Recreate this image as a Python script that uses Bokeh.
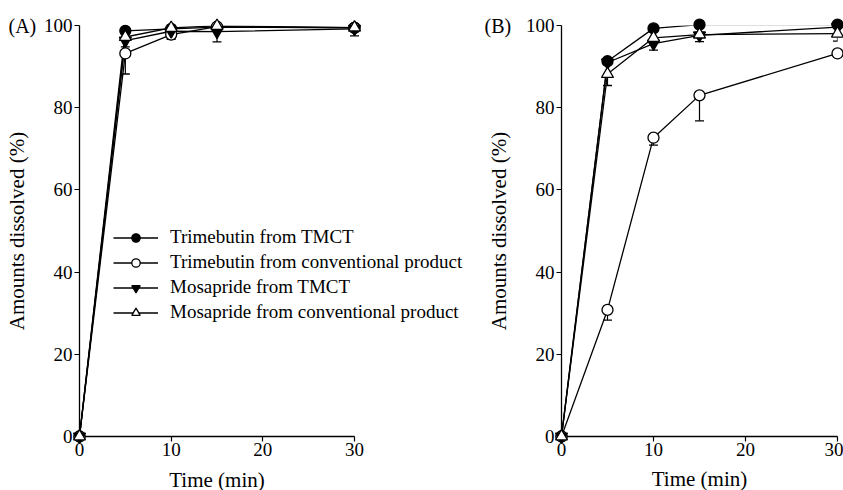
from bokeh.plotting import figure
from bokeh.layouts import row
from bokeh.models import Legend, LegendItem, Range1d, FixedTicker, ColumnDataSource
from bokeh.core.properties import value
from bokeh.embed import file_html
from bokeh.resources import INLINE

time = [0, 5, 10, 15, 30]

# Panel A
tri_tmct_a = [0, 98.7, 99.2, 99.6, 99.5]
tri_conv_a = [0, 93.2, 97.8, 99.7, 99.4]
mos_tmct_a = [0, 96.3, 98.6, 98.5, 99.2]
mos_conv_a = [0, 97.2, 99.4, 99.9, 99.5]
tri_conv_a_err = [0, 5.0, 1.2, 0, 0]
mos_tmct_a_err = [0, 1.5, 1.2, 2.5, 1.7]

# Panel B
tri_tmct_b = [0, 91.3, 99.3, 100.2, 100.2]
tri_conv_b = [0, 30.8, 72.7, 83.0, 93.2]
mos_tmct_b = [0, 91.0, 95.6, 97.6, 99.6]
mos_conv_b = [0, 88.2, 97.0, 97.8, 98.0]
tri_conv_b_err = [0, 2.5, 1.8, 6.2, 0.5]
mos_tmct_b_err = [0, 0, 1.6, 1.5, 0]
mos_conv_b_err = [0, 2.8, 0, 0, 1.8]

labels = ["Trimebutin from TMCT", "Trimebutin from conventional product",
          "Mosapride from TMCT", "Mosapride from conventional product"]
x_ticks = [0, 10, 20, 30]
y_ticks = [0, 20, 40, 60, 80, 100]
x_title = "Time (min)"
y_title = "Amounts dissolved (%)"

FONT = "Liberation Serif"

styles = [
    dict(marker="circle", fill_color="black", size=11),
    dict(marker="circle", fill_color="white", size=11),
    dict(marker="inverted_triangle", fill_color="black", size=12),
    dict(marker="triangle", fill_color="white", size=12),
]


def make_panel(series, errs, tag, tag_dx, min_left, width, frame_w, x_end, right,
               with_legend, own_xlabel):
    p = figure(width=width, height=490, output_backend="svg", toolbar_location=None,
               x_range=Range1d(0, x_end), y_range=Range1d(0, 100),
               frame_width=frame_w, frame_height=411,
               min_border_left=min_left, min_border_right=right,
               min_border_top=25, min_border_bottom=54 if own_xlabel else 5)
    p.outline_line_color = None
    p.grid.visible = False
    p.background_fill_color = "white"
    p.border_fill_color = "white"
    for ax in (p.xaxis, p.yaxis):
        ax.axis_line_color = "black"
        ax.axis_line_width = 1.3
        ax.major_tick_line_color = "black"
        ax.major_tick_line_width = 1.2
        ax.major_tick_in = 0
        ax.major_tick_out = 5
        ax.minor_tick_line_color = None
        ax.major_label_text_font = FONT
        ax.major_label_text_font_size = "19px"
        ax.major_label_text_color = "black"
        ax.axis_label_text_font = FONT
        ax.axis_label_text_font_size = "21px"
        ax.axis_label_text_font_style = "normal"
        ax.axis_label_text_color = "black"
    p.xaxis.ticker = FixedTicker(ticks=x_ticks)
    p.yaxis.ticker = FixedTicker(ticks=y_ticks)
    p.xaxis.bounds = (0, 30)
    p.xaxis.major_label_standoff = 1
    p.yaxis.major_label_standoff = 2
    p.yaxis.axis_label = y_title
    p.xaxis.axis_label_standoff = 8
    p.yaxis.axis_label_standoff = 12

    if own_xlabel:
        # centred under the 0-30 part of the axis (frame is wider for the legend)
        xt = p.text(x=[(x_ticks[0] + x_ticks[-1]) / 2], y=[0], text=[x_title], y_offset=43,
                    text_font=value(FONT), text_font_size=value("21px"),
                    text_color="black", text_align="center", text_baseline="middle")
        xt.level = "overlay"
    else:
        p.xaxis.axis_label = x_title

    # error bars (lower side only)
    for vals, err in errs:
        xs = [t for t, e in zip(time, err) if e > 0]
        top = [v for v, e in zip(vals, err) if e > 0]
        low = [v - e for v, e in zip(vals, err) if e > 0]
        p.segment(x0=xs, y0=top, x1=xs, y1=low, line_color="black", line_width=1.2)
        p.scatter(x=xs, y=low, marker="dash", size=9, line_color="black", line_width=1.3)

    items = []
    for vals, st, lab in zip(series, styles, labels):
        src = ColumnDataSource(dict(x=time, y=vals))
        ln = p.line("x", "y", source=src, line_color="black", line_width=1.3)
        sc = p.scatter("x", "y", source=src, marker=st["marker"], size=st["size"],
                       fill_color=st["fill_color"], line_color="black", line_width=1.3)
        sc.level = "overlay"
        items.append(LegendItem(label=lab, renderers=[ln, sc]))

    if with_legend:
        lg = Legend(items=items, location=(34, 113), border_line_color=None,
                    background_fill_alpha=0, padding=0, margin=0, spacing=3,
                    glyph_width=45, glyph_height=21, label_height=21,
                    label_standoff=12, label_text_font=FONT,
                    label_text_font_size="19px", label_text_color="black")
        p.add_layout(lg)

    t = p.text(x=[0], y=[100], text=[tag], x_offset=tag_dx,
               text_font=value(FONT), text_font_size=value("20px"),
               text_color="black", text_align="left", text_baseline="middle")
    t.level = "overlay"
    return p


pa = make_panel([tri_tmct_a, tri_conv_a, mos_tmct_a, mos_conv_a],
                [(tri_conv_a, tri_conv_a_err), (mos_tmct_a, mos_tmct_a_err)],
                "(A)", -71, 79, 470, 386, 30 * 386 / 275, 5, True, True)
pb = make_panel([tri_tmct_b, tri_conv_b, mos_tmct_b, mos_conv_b],
                [(tri_conv_b, tri_conv_b_err), (mos_tmct_b, mos_tmct_b_err), (mos_conv_b, mos_conv_b_err)],
                "(B)", -77, 91, 373, 276, 30, 6, False, False)

layout = row(pa, pb)
open("out.html", "w").write(file_html(layout, INLINE))
